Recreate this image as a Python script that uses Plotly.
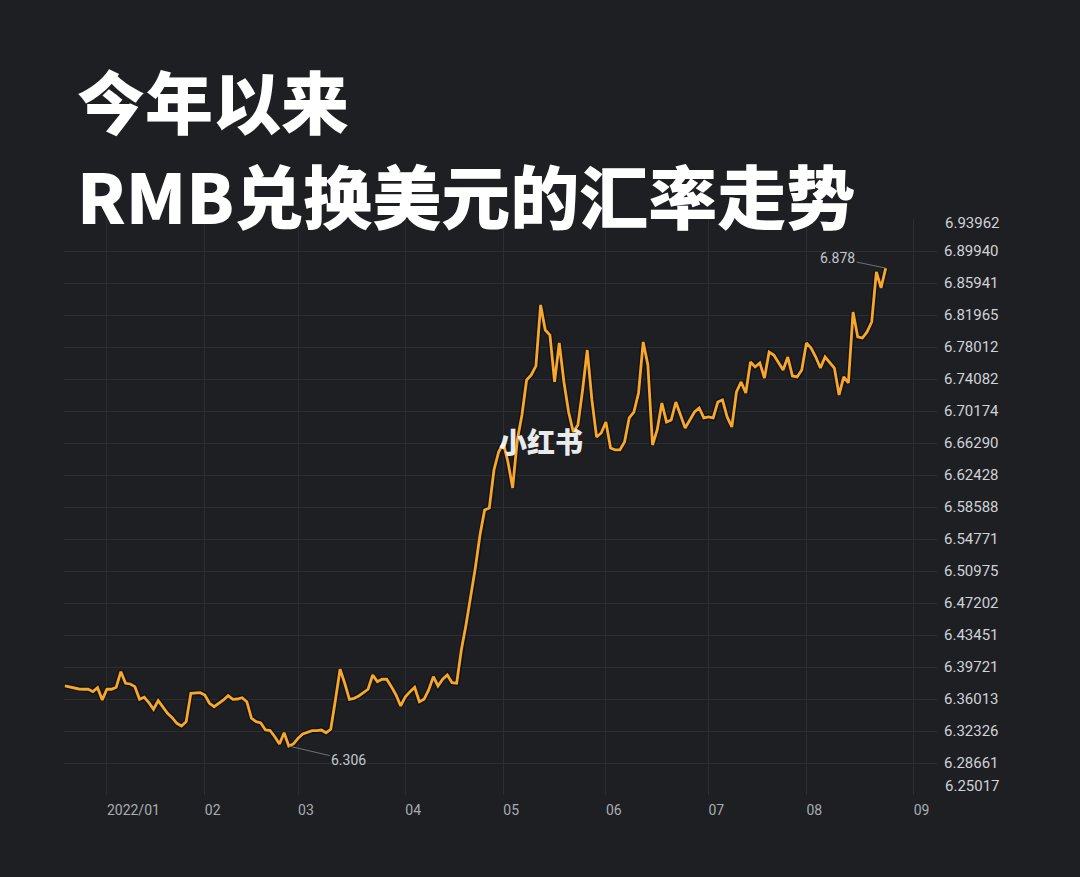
import math
import pandas as pd
import plotly.graph_objects as go

# ---------------- data ----------------
start_date = "2021-12-21"  # first trading day shown (weekdays only)

usd_cny = [
    # Dec 21-31, 2021
    6.3752, 6.3740, 6.3725, 6.3717, 6.3714, 6.3714, 6.3686, 6.3732, 6.3590,
    # Jan 2022
    6.3714, 6.3714, 6.3737, 6.3918, 6.3783,
    6.3775, 6.3744, 6.3598, 6.3621, 6.3559,
    6.3483, 6.3582, 6.3506, 6.3437, 6.3386,
    6.3321, 6.3290, 6.3340, 6.3667, 6.3667,
    6.3674,
    # Feb
    6.3648, 6.3552, 6.3513, 6.3552,
    6.3590, 6.3640, 6.3598, 6.3601, 6.3616,
    6.3570, 6.3379, 6.3340, 6.3325, 6.3244,
    6.3238, 6.3167, 6.3084, 6.3213, 6.3060,
    6.3084,
    # Mar
    6.3149, 6.3198, 6.3213, 6.3236,
    6.3236, 6.3244, 6.3213, 6.3252, 6.3590,
    6.3946, 6.3783, 6.3598, 6.3609, 6.3636,
    6.3674, 6.3714, 6.3879, 6.3802, 6.3830,
    6.3830, 6.3744, 6.3648, 6.3521,
    # Apr
    6.3628,
    6.3686, 6.3737, 6.3570, 6.3598, 6.3706,
    6.3860, 6.3752, 6.3830, 6.3879, 6.3790,
    6.3783, 6.4170, 6.4462, 6.4779, 6.5133,
    6.5525, 6.5823, 6.5847, 6.6303, 6.6520,
    # May
    6.6629, 6.6400, 6.6087, 6.6665, 6.6969,
    6.7396, 6.7457, 6.7568, 6.8321, 6.8011,
    6.7949, 6.7372, 6.7851, 6.7372, 6.7005,
    6.6763, 6.6847, 6.7274, 6.7764, 6.7152,
    6.6702, 6.6750,
    # Jun
    6.6884, 6.6569, 6.6545,
    6.6545, 6.6641, 6.6933, 6.7005, 6.7237,
    6.7863, 6.7580, 6.6605, 6.6787, 6.7115,
    6.6884, 6.6908, 6.7127, 6.6969, 6.6811,
    6.6908, 6.7005, 6.7054, 6.6933,
    # Jul
    6.6945,
    6.6933, 6.7127, 6.7152, 6.6945, 6.6823,
    6.7249, 6.7372, 6.7237, 6.7617, 6.7556,
    6.7605, 6.7420, 6.7740, 6.7703, 6.7617,
    6.7519, 6.7678, 6.7445, 6.7433, 6.7519,
    # Aug
    6.7851, 6.7789, 6.7678, 6.7543, 6.7678,
    6.7605, 6.7543, 6.7213, 6.7433, 6.7359,
    6.8234, 6.7925, 6.7912, 6.7987, 6.8110,
    6.8732, 6.8532, 6.8780,
]

y_ticks = [6.25017, 6.28661, 6.32326, 6.36013, 6.39721, 6.43451, 6.47202,
           6.50975, 6.54771, 6.58588, 6.62428, 6.66290, 6.70174, 6.74082,
           6.78012, 6.81965, 6.85941, 6.89940, 6.93962]
y_tick_text = ["6.25017", "6.28661", "6.32326", "6.36013", "6.39721", "6.43451",
               "6.47202", "6.50975", "6.54771", "6.58588", "6.62428", "6.66290",
               "6.70174", "6.74082", "6.78012", "6.81965", "6.85941", "6.89940",
               "6.93962"]

x_ticks = ["2022-01-03", "2022-02-01", "2022-03-01", "2022-04-01", "2022-05-02",
           "2022-06-01", "2022-07-01", "2022-08-01", "2022-09-01"]
x_tick_text = ["2022/01", "02", "03", "04", "05", "06", "07", "08", "09"]

title_line1 = "今年以来"
title_line2 = "RMB兑换美元的汇率走势"
watermark = "小红书"

# ---------------- styling ----------------
W, H = 1080, 877
L, R, T, B = 64, 143, 219, 82
PW, PH = W - L - R, H - T - B
BG = "#1e1f23"
GRID = "#2c2e33"
LINE = "#f7a82c"
TICK_FONT = "Roboto"
CJK_FONT = "Noto Sans CJK SC"


def px_x(px):
    return (px - L) / PW


def px_y(py):
    return (H - B - py) / PH


dates = pd.bdate_range(start=start_date, periods=len(usd_cny))

fig = go.Figure()
fig.add_trace(go.Scatter(
    x=dates, y=usd_cny, mode="lines",
    line=dict(color="#121315", width=5.5),
    hoverinfo="skip", showlegend=False,
))
fig.add_trace(go.Scatter(
    x=dates, y=usd_cny, mode="lines",
    line=dict(color=LINE, width=2.8),
    showlegend=False,
))

# min / last annotations
i_min = min(range(len(usd_cny)), key=lambda i: usd_cny[i])
i_last = len(usd_cny) - 1

annotations = [
    dict(x=dates[i_min], y=math.log10(usd_cny[i_min]), xref="x", yref="y",
         text=f"{usd_cny[i_min]:.3f}", showarrow=True, arrowhead=0,
         arrowwidth=1, arrowcolor="#6e7278", ax=60, ay=14,
         font=dict(family=TICK_FONT, size=14, color="#c3c7cd")),
    dict(x=dates[i_last], y=math.log10(usd_cny[i_last]), xref="x", yref="y",
         text=f"{usd_cny[i_last]:.3f}", showarrow=True, arrowhead=0,
         arrowwidth=1, arrowcolor="#6e7278", ax=-48, ay=-10,
         font=dict(family=TICK_FONT, size=14, color="#c3c7cd")),
    # edge y labels (clamped inside)
    dict(x=1, y=px_y(223), xref="paper", yref="paper", xanchor="left",
         yanchor="middle", xshift=6, showarrow=False, text=y_tick_text[-1],
         font=dict(family=TICK_FONT, size=15, color="#cfd2d7")),
    dict(x=1, y=px_y(786), xref="paper", yref="paper", xanchor="left",
         yanchor="middle", xshift=6, showarrow=False, text=y_tick_text[0],
         font=dict(family=TICK_FONT, size=15, color="#cfd2d7")),
    # titles
    dict(x=px_x(75), y=px_y(99), xref="paper", yref="paper", xanchor="left",
         yanchor="middle", showarrow=False, text=title_line1,
         font=dict(family=CJK_FONT, size=68, color="#ffffff", weight=900)),
    dict(x=px_x(75), y=px_y(194), xref="paper", yref="paper", xanchor="left",
         yanchor="middle", showarrow=False, text=title_line2,
         font=dict(family=CJK_FONT, size=69, color="#ffffff", weight=900)),
    # watermark
    dict(x=px_x(541), y=px_y(441), xref="paper", yref="paper", xanchor="center",
         yanchor="middle", showarrow=False, text=watermark,
         font=dict(family=CJK_FONT, size=28, color="rgba(255,255,255,0.92)", weight=900)),
]

fig.update_layout(
    width=W, height=H,
    margin=dict(l=L, r=R, t=T, b=B, pad=0),
    paper_bgcolor=BG, plot_bgcolor=BG,
    annotations=annotations,
    showlegend=False,
    xaxis=dict(
        type="date",
        range=["2021-12-20 19:12", "2022-09-08"],
        rangebreaks=[dict(bounds=["sat", "mon"])],
        tickmode="array", tickvals=x_ticks, ticktext=x_tick_text,
        ticklabelposition="outside right",
        ticklabelstandoff=5,
        showgrid=True, gridcolor=GRID, gridwidth=1,
        zeroline=False, showline=False, ticks="",
        tickfont=dict(family=TICK_FONT, size=14, color="#a9acb2"),
        fixedrange=True,
    ),
    yaxis=dict(
        type="log",
        range=[math.log10(y_ticks[0]), math.log10(y_ticks[-1])],
        side="right",
        tickmode="array", tickvals=y_ticks,
        ticktext=[""] + y_tick_text[1:-1] + [""],
        showgrid=True, gridcolor=GRID, gridwidth=1,
        zeroline=False, showline=False, ticks="",
        ticklabelstandoff=6,
        tickfont=dict(family=TICK_FONT, size=15, color="#cfd2d7"),
        fixedrange=True,
    ),
)

fig.write_html(
    "out.html",
    config={"displayModeBar": False},
    post_script=f"document.body.style.margin='0';document.body.style.background='{BG}';",
)
